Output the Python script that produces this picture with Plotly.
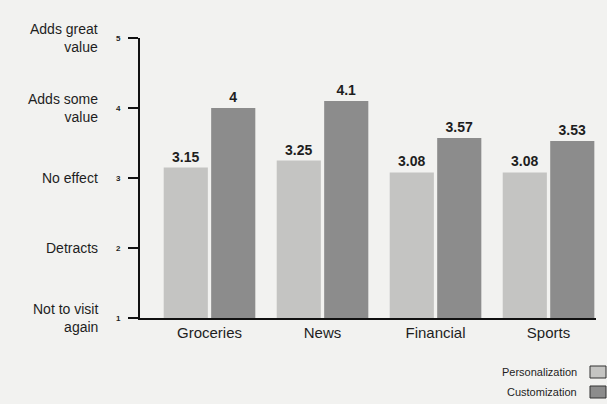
import plotly.graph_objects as go

categories = ["Groceries", "News", "Financial", "Sports"]
personalization = [3.15, 3.25, 3.08, 3.08]
customization = [4, 4.1, 3.57, 3.53]
tick_values = [1, 2, 3, 4, 5]
tick_labels = ["Not to visit<br>again", "Detracts", "No effect", "Adds some<br>value", "Adds great<br>value"]
series_names = ["Personalization", "Customization"]
series_colors = ["#c4c4c2", "#8c8c8c"]

FONT = "Liberation Sans, Arial, sans-serif"
TXT = "#1e1e1e"

fig = go.Figure()
for name, vals, col in zip(series_names, [personalization, customization], series_colors):
    fig.add_trace(go.Bar(
        x=categories, y=vals, name=name, marker=dict(color=col, line=dict(width=0)),
        text=[f"{v:g}" for v in vals], textposition="outside", cliponaxis=False,
        textfont=dict(family=FONT, size=14, color=TXT, weight="bold"),
        showlegend=False,
    ))

annotations = []
for v, lab in zip(tick_values, tick_labels):
    annotations.append(dict(
        x=0, xref="paper", xshift=-40, y=v, yref="y", text=lab, showarrow=False,
        xanchor="right", yanchor="middle", align="right",
        font=dict(family=FONT, size=14, color=TXT),
    ))

shapes = []
for i, (name, col) in enumerate(zip(series_names, series_colors)):
    ypix = 372 + i * 20
    yp = (318 - ypix) / 280
    annotations.append(dict(
        x=(579 - 140) / 456, xref="paper", y=yp, yref="paper", text=name, showarrow=False,
        xanchor="right", yanchor="middle", font=dict(family=FONT, size=11, color=TXT),
    ))
    shapes.append(dict(
        type="rect", xref="paper", yref="paper",
        x0=(590 - 140) / 456, x1=(606 - 140) / 456,
        y0=(318 - ypix - 6) / 280, y1=(318 - ypix + 6) / 280,
        fillcolor=col, line=dict(color="#333333", width=1),
    ))

fig.update_layout(
    width=607, height=404,
    margin=dict(l=140, r=11, t=38, b=86),
    paper_bgcolor="#f2f2f0", plot_bgcolor="#f2f2f0",
    barmode="group", bargap=0.16, bargroupgap=0.07,
    font=dict(family=FONT, color=TXT),
    annotations=annotations, shapes=shapes,
    showlegend=False,
)
fig.update_xaxes(
    range=[-0.615, 3.42], showline=True, linecolor="#111111", linewidth=2,
    ticks="", showgrid=False, tickfont=dict(family=FONT, size=15, color=TXT),
)
fig.update_yaxes(
    range=[1, 5], tickvals=tick_values, ticktext=[str(v) for v in tick_values],
    showline=True, linecolor="#111111", linewidth=2, ticks="outside", ticklen=10,
    tickwidth=2, tickcolor="#111111", showgrid=False, zeroline=False,
    ticklabelstandoff=6,
    tickfont=dict(family=FONT, size=8, color=TXT, weight="bold"),
)

fig.write_html("out.html")
